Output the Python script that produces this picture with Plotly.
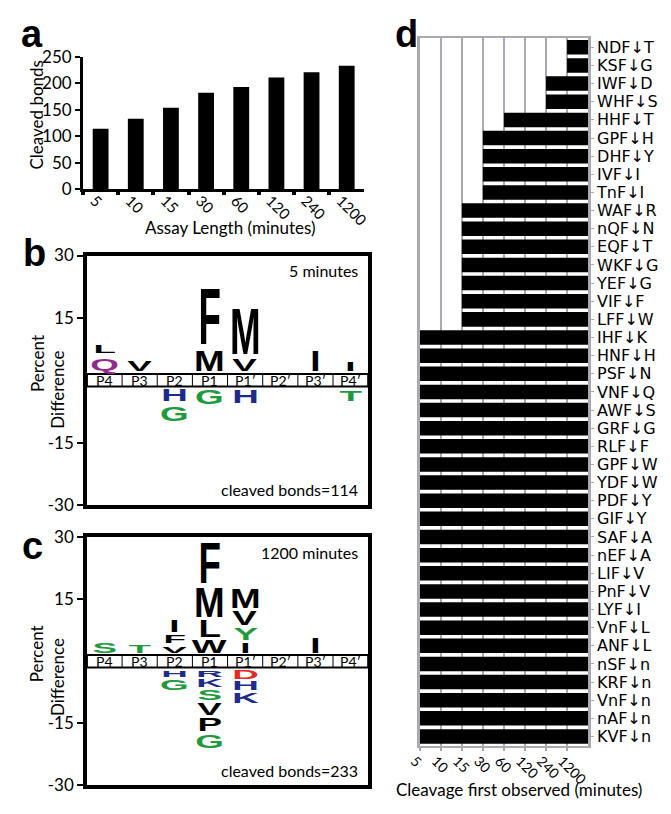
import json
import plotly.graph_objects as go

W, H = 671, 814

# ---------------- data ----------------
assay_minutes = ["5", "10", "15", "30", "60", "120", "240", "1200"]
cleaved_bonds = [114, 133, 154, 182, 193, 211, 221, 233]

positions = ["P4", "P3", "P2", "P1", "P1′", "P2′", "P3′", "P4′"]

# panel b (5 minutes): residue, position, percent difference (stack order from the band outward)
b_pos = ["P4", "P4", "P3", "P1", "P1", "P1′", "P1′", "P3′", "P4′",
         "P2", "P2", "P1", "P1′", "P4′"]
b_res = ["Q", "L", "V", "M", "F", "V", "M", "I", "I",
         "H", "G", "G", "H", "T"]
b_pct = [3.0, 1.9, 2.6, 5.2, 13.8, 2.8, 11.2, 5.2, 2.3,
         -2.8, -3.5, -3.5, -3.3, -2.6]

# panel c (1200 minutes)
c_pos = ["P4", "P3", "P2", "P2", "P2", "P1", "P1", "P1", "P1",
         "P1′", "P1′", "P1′", "P1′", "P3′",
         "P2", "P2", "P1", "P1", "P1", "P1", "P1", "P1", "P1′", "P1′", "P1′"]
c_res = ["S", "T", "V", "F", "I", "W", "L", "M", "F",
         "I", "Y", "V", "M", "I",
         "H", "G", "R", "K", "S", "V", "P", "G", "D", "H", "K"]
c_pct = [2.4, 1.9, 1.6, 1.9, 2.8, 3.1, 4.2, 7.5, 9.9,
         2.4, 2.8, 3.5, 4.9, 3.8,
         -1.6, -2.6, -1.6, -1.9, -2.4, -2.8, -3.3, -3.3, -2.1, -2.1, -2.4]

# panel d
peptides = ["NDF↓T", "KSF↓G", "IWF↓D", "WHF↓S", "HHF↓T", "GPF↓H", "DHF↓Y", "IVF↓I",
            "TnF↓I", "WAF↓R", "nQF↓N", "EQF↓T", "WKF↓G", "YEF↓G", "VIF↓F", "LFF↓W",
            "IHF↓K", "HNF↓H", "PSF↓N", "VNF↓Q", "AWF↓S", "GRF↓G", "RLF↓F", "GPF↓W",
            "YDF↓W", "PDF↓Y", "GIF↓Y", "SAF↓A", "nEF↓A", "LIF↓V", "PnF↓V", "LYF↓I",
            "VnF↓L", "ANF↓L", "nSF↓n", "KRF↓n", "VnF↓n", "nAF↓n", "KVF↓n"]
first_observed = [1200, 1200, 240, 240, 60, 30, 30, 30,
                  30, 15, 15, 15, 15, 15, 15, 15,
                  5, 5, 5, 5, 5, 5, 5, 5,
                  5, 5, 5, 5, 5, 5, 5, 5,
                  5, 5, 5, 5, 5, 5, 5]

GREEN = "#1f9a3c"
BLUE = "#1d2b8c"
PURPLE = "#93288f"
RED = "#e42a24"
residue_color = {"Q": PURPLE, "N": PURPLE, "G": GREEN, "S": GREEN, "T": GREEN,
                 "Y": GREEN, "C": GREEN, "H": BLUE, "K": BLUE, "R": BLUE,
                 "D": RED, "E": RED}

FONT = "Lato, 'Open Sans', sans-serif"
LOGO_FONT = "Liberation Sans, Arial, sans-serif"
LOGO_SIZE = 32
LOGO_XSCALE = 1.15
BAND = 1.5
GRID = "#a9a9b3"


def fx(px):
    return px / W


def fy(py):
    return 1 - py / H


fig = go.Figure()

# panel a bars
fig.add_trace(go.Bar(x=assay_minutes, y=cleaved_bonds, marker=dict(color="black", line=dict(width=0)),
                     width=0.45, xaxis="x", yaxis="y", hoverinfo="skip"))

# panel d bars
bar_base = [assay_minutes.index(str(m)) for m in first_observed]
bar_len = [len(assay_minutes) - b for b in bar_base]
fig.add_trace(go.Bar(y=peptides, x=bar_len, base=bar_base, orientation="h",
                     marker=dict(color="black", line=dict(width=0)), width=0.8,
                     xaxis="x4", yaxis="y4", hoverinfo="skip"))

# empty traces so logo subplots exist
fig.add_trace(go.Scatter(x=[None], y=[None], xaxis="x2", yaxis="y2", hoverinfo="skip"))
fig.add_trace(go.Scatter(x=[None], y=[None], xaxis="x3", yaxis="y3", hoverinfo="skip"))

annotations = []
shapes = []
logo_specs = []


def ann(text, x, y, size=17, **kw):
    d = dict(text=text, x=x, y=y, xref="paper", yref="paper", showarrow=False,
             xanchor="center", yanchor="middle",
             font=dict(family=FONT, size=size, color="black"))
    d.update(kw)
    annotations.append(d)


# panel letters
for lab, x, y in [("a", 7, 24), ("b", 9, 248), ("c", 8, 549), ("d", 391, 24)]:
    annotations.append(dict(text=lab, x=fx(x), y=fy(y), xref="paper", yref="paper", showarrow=False,
                            xanchor="left", yanchor="middle",
                            font=dict(family="Liberation Sans, Arial", size=38, color="black", weight="bold")))

# axis titles
ann("Cleaved bonds", fx(25), fy(106), textangle=-90)
ann("Assay Length (minutes)", fx(225), fy(222))
ann("Percent", fx(26), fy(362), textangle=-90)
ann("Difference", fx(47), fy(389), textangle=-90)
ann("Percent", fx(26), fy(660), textangle=-90)
ann("Difference", fx(47), fy(684), textangle=-90)
ann("Cleavage first observed (minutes)", fx(521), fy(799))


def logo_panel(xr, yr, yname, pos, res, pct, gap0, gap, label_top, label_bottom):
    # band
    shapes.append(dict(type="rect", xref=xr, yref=yr, x0=0, x1=len(positions), y0=-BAND, y1=BAND,
                       line=dict(color="black", width=2), fillcolor="white", layer="below"))
    for k in range(1, len(positions)):
        shapes.append(dict(type="line", xref=xr, yref=yr, x0=k, x1=k, y0=-BAND, y1=BAND,
                           line=dict(color="black", width=1)))
    for k, p in enumerate(positions):
        annotations.append(dict(text=p, x=k + 0.5, y=0, xref=xr, yref=yr, showarrow=False,
                                xanchor="center", yanchor="middle",
                                font=dict(family=FONT, size=14, color="black")))
    annotations.append(dict(text=label_top, x=0.97, y=0.985, xref=xr + " domain", yref=yr + " domain",
                            showarrow=False, xanchor="right", yanchor="top",
                            font=dict(family=FONT, size=16, color="black")))
    annotations.append(dict(text=label_bottom, x=0.97, y=0.015, xref=xr + " domain", yref=yr + " domain",
                            showarrow=False, xanchor="right", yanchor="bottom",
                            font=dict(family=FONT, size=16, color="black")))
    up, dn = {}, {}
    for p, r, v in zip(pos, res, pct):
        col = positions.index(p)
        if v >= 0:
            y0 = up.get(col, BAND + gap0)
            y1 = y0 + v
            up[col] = y1 + gap
        else:
            y1 = dn.get(col, -(BAND + gap0))
            y0 = y1 + v
            dn[col] = y0 - gap
        logo_specs.append(dict(i=len(annotations), ya=yname, y0=y0, y1=y1, fs=LOGO_SIZE, sx=LOGO_XSCALE))
        annotations.append(dict(text=r, x=col + 0.5, y=(y0 + y1) / 2, xref=xr, yref=yr, showarrow=False,
                                xanchor="center", yanchor="middle",
                                font=dict(family=LOGO_FONT, size=LOGO_SIZE,
                                          color=residue_color.get(r, "black"), weight="bold")))


logo_panel("x2", "y2", "yaxis2", b_pos, b_res, b_pct, 0.8, 1.3,
           f"{assay_minutes[0]} minutes", f"cleaved bonds={cleaved_bonds[0]}")
logo_panel("x3", "y3", "yaxis3", c_pos, c_res, c_pct, 0.6, 0.7,
           f"{assay_minutes[-1]} minutes", f"cleaved bonds={cleaved_bonds[-1]}")

logo_y = dict(range=[-30, 30], tickvals=[30, 15, -15, -30], ticktext=["30", "15", "-15", "-30"],
              ticks="outside", ticklen=6, tickwidth=2, tickcolor="black",
              showline=True, mirror=True, linecolor="black", linewidth=3.5,
              showgrid=False, zeroline=False, tickfont=dict(family=FONT, size=17, color="black"),
              fixedrange=True)
logo_x = dict(range=[0, len(positions)], showticklabels=False, ticks="",
              showline=True, mirror=True, linecolor="black", linewidth=3.5,
              showgrid=False, zeroline=False, fixedrange=True)

fig.update_layout(
    width=W, height=H, margin=dict(l=0, r=0, t=0, b=0),
    paper_bgcolor="white", plot_bgcolor="white", showlegend=False,
    font=dict(family=FONT, color="black"),
    xaxis=dict(domain=[fx(73), fx(362)], anchor="y", type="category",
               showline=True, linecolor="black", linewidth=3,
               ticks="outside", tickson="boundaries", ticklen=3, tickwidth=4, tickcolor="black",
               tickangle=45, tickfont=dict(family=FONT, size=15, color="black"),
               ticklabelstandoff=-6, ticklabelshift=-6,
               showgrid=False, zeroline=False),
    yaxis=dict(domain=[fy(183), fy(47)], anchor="x", range=[0, 250], dtick=50,
               showline=True, linecolor="black", linewidth=3,
               ticks="outside", ticklen=5, tickwidth=2, tickcolor="black",
               tickfont=dict(family=FONT, size=17, color="black"),
               showgrid=False, zeroline=False),
    xaxis2=dict(domain=[fx(77), fx(366)], anchor="y2", **logo_x),
    yaxis2=dict(domain=[fy(507), fy(251)], anchor="x2", **logo_y),
    xaxis3=dict(domain=[fx(77), fx(366)], anchor="y3", **logo_x),
    yaxis3=dict(domain=[fy(795), fy(540)], anchor="x3", **logo_y),
    xaxis4=dict(domain=[fx(419), fx(592)], anchor="y4", range=[0, len(assay_minutes)],
                tickvals=list(range(len(assay_minutes))), ticktext=assay_minutes,
                tickangle=45, tickfont=dict(family=FONT, size=14, color="black"),
                ticklabelstandoff=-3, ticklabelshift=-5,
                ticks="outside", ticklen=3, tickcolor=GRID, tickwidth=2,
                showgrid=True, gridcolor=GRID, gridwidth=2,
                showline=True, mirror=True, linecolor=GRID, linewidth=2,
                zeroline=False),
    yaxis4=dict(domain=[fy(754), fy(28)], anchor="x4", side="right", type="category",
                categoryorder="array", categoryarray=peptides, autorange="reversed",
                tickmode="array", tickvals=peptides, ticktext=peptides,
                showline=True, mirror=True, linecolor=GRID, linewidth=2.5,
                ticks="outside", ticklen=3, tickcolor=GRID,
                tickfont=dict(family="DejaVu Sans", size=16, color="black"),
                showgrid=False, zeroline=False),
    annotations=annotations,
    shapes=shapes,
)

post_js = """
(function(){
document.documentElement.style.margin = '0';
document.body.style.margin = '0';
document.body.style.padding = '0';
document.body.style.overflow = 'hidden';
var gd = document.getElementById('{plot_id}');
var SPECS = %s;
function fit(){
  var fl = gd._fullLayout; if(!fl) return;
  var svg = gd.querySelector('svg.main-svg');
  var base = svg.getScreenCTM();
  SPECS.forEach(function(s){
    var g = gd.querySelector('g.annotation[data-index="' + s.i + '"]');
    if(!g) return;
    var t = g.querySelector('text.annotation-text');
    if(!t) return;
    t.removeAttribute('transform');
    var yb = parseFloat(t.getAttribute('y'));
    var bb = t.getBBox();
    if (isNaN(yb)) { yb = bb.y + 0.905*s.fs; }
    var xc = bb.x + bb.width/2;
    var ycap = yb - 0.716*s.fs;
    var ya = fl[s.ya];
    var m = t.parentNode.getScreenCTM().inverse().multiply(base);
    var p = svg.createSVGPoint();
    p.x = 0; p.y = ya._offset + ya.l2p(s.y0);
    var q0 = p.matrixTransform(m);
    p = svg.createSVGPoint();
    p.x = 0; p.y = ya._offset + ya.l2p(s.y1);
    var q1 = p.matrixTransform(m);
    var sy = (q0.y - q1.y) / (yb - ycap);
    var ty = q0.y - sy*yb;
    var sx = s.sx;
    var tx = (1 - sx)*xc;
    t.setAttribute('transform', 'matrix(' + sx + ' 0 0 ' + sy + ' ' + tx + ' ' + ty + ')');
  });
}
fit();
gd.on('plotly_afterplot', fit);
if (document.fonts && document.fonts.ready) { document.fonts.ready.then(fit); }
setTimeout(fit, 200);
})();
""" % json.dumps(logo_specs)

fig.write_html("out.html", post_script=post_js, config={"displayModeBar": False})
